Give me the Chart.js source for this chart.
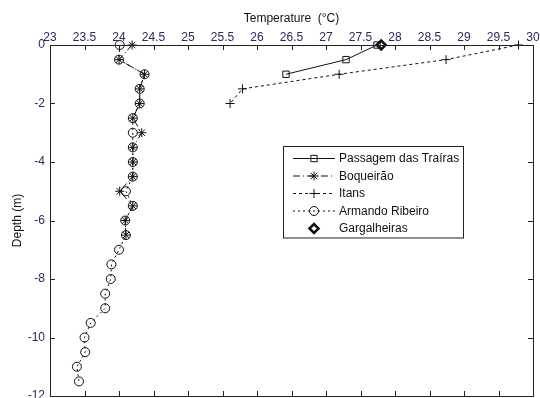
<!DOCTYPE html>
<html>
<head>
<meta charset="utf-8">
<script src="https://cdn.jsdelivr.net/npm/chart.js@4"></script>
<style>
  html, body { margin: 0; padding: 0; background: #fff; overflow: hidden; }
  #wrap { width: 540px; height: 398px; overflow: hidden; }
</style>
</head>
<body>
<div id="wrap"><canvas id="profileChart" width="540" height="403"></canvas></div>
<script>
// depths (m) and temperatures (°C)
const armandoDepth = [0, -0.5, -1, -1.5, -2, -2.5, -3, -3.5, -4, -4.5, -5, -5.5, -6, -6.5, -7, -7.5, -8, -8.5, -9, -9.5, -10, -10.5, -11, -11.5];
const armandoTemp = [24.01, 24.0, 24.37, 24.30, 24.30, 24.20, 24.20, 24.20, 24.20, 24.20, 24.10, 24.20, 24.09, 24.10, 24.0, 23.89, 23.88, 23.80, 23.80, 23.59, 23.50, 23.51, 23.39, 23.42];
const boqueiraoDepth = [0, -0.5, -1, -1.5, -2, -2.5, -3, -3.5, -4, -4.5, -5, -5.5, -6, -6.5];
const boqueiraoTemp = [24.19, 24.0, 24.37, 24.30, 24.30, 24.20, 24.33, 24.20, 24.20, 24.20, 24.01, 24.20, 24.09, 24.10];
const passagemDepth = [0, -0.5, -1];
const passagemTemp = [27.74, 27.29, 26.42];
const itansDepth = [0, -0.5, -1, -1.5, -2];
const itansTemp = [29.79, 28.74, 27.19, 25.79, 25.61];
const gargalheirasDepth = [0];
const gargalheirasTemp = [27.80];

const tempTicks = [23, 23.5, 24, 24.5, 25, 25.5, 26, 26.5, 27, 27.5, 28, 28.5, 29, 29.5, 30];
const depthTicks = [0, -2, -4, -6, -8, -10, -12];

const FONT = "Arial, 'Liberation Sans', sans-serif";
const tickColor = "#2a2a5c";

function pts(temps, depths) {
    return temps.map((t, i) => ({ x: t, y: depths[i] }));
}

function series(label, temps, depths, style, dash, radius, width, showLine) {
    return {
        label: label,
        data: pts(temps, depths),
        showLine: showLine,
        borderColor: "#111",
        borderWidth: 1,
        borderDash: dash,
        pointStyle: style,
        pointRadius: radius,
        pointBorderColor: "#111",
        pointBackgroundColor: "rgba(0,0,0,0)",
        pointBorderWidth: width,
        clip: false
    };
}

// inward ticks + box, like the original plot
const frameTicks = {
    id: "frameTicks",
    afterDraw(chart) {
        const ctx = chart.ctx;
        const a = chart.chartArea;
        const xs = chart.scales.x, ys = chart.scales.y;
        ctx.save();
        ctx.strokeStyle = "#222";
        ctx.lineWidth = 1;
        ctx.strokeRect(a.left + 0.5, a.top + 0.5, a.right - a.left, a.bottom - a.top);
        ctx.beginPath();
        tempTicks.forEach(v => {
            const px = Math.round(xs.getPixelForValue(v)) + 0.5;
            ctx.moveTo(px, a.top); ctx.lineTo(px, a.top + 5);
            ctx.moveTo(px, a.bottom); ctx.lineTo(px, a.bottom - 5);
        });
        depthTicks.forEach(v => {
            const py = Math.round(ys.getPixelForValue(v)) + 0.5;
            ctx.moveTo(a.left, py); ctx.lineTo(a.left + 5, py);
            ctx.moveTo(a.right, py); ctx.lineTo(a.right - 5, py);
        });
        ctx.stroke();
        ctx.restore();
    }
};

// legend drawn as a boxed MATLAB-style key
const boxLegend = {
    id: "boxLegend",
    afterDraw(chart) {
        const ctx = chart.ctx;
        const left = 283, top = 146, w = 180, rowH = 17.5;
        const sets = chart.data.datasets;
        ctx.save();
        ctx.fillStyle = "#fff";
        ctx.fillRect(left, top, w, rowH * sets.length + 4);
        ctx.strokeStyle = "#222";
        ctx.lineWidth = 1;
        ctx.strokeRect(left + 0.5, top + 0.5, w, rowH * sets.length + 4);
        sets.forEach((ds, i) => {
            const y = top + 12 + i * rowH;
            ctx.strokeStyle = "#111";
            ctx.lineWidth = 1;
            if (ds.showLine) {
                ctx.setLineDash(ds.borderDash || []);
                ctx.beginPath();
                ctx.moveTo(293, y + 0.5);
                ctx.lineTo(335, y + 0.5);
                ctx.stroke();
            }
            ctx.setLineDash([]);
            ctx.fillStyle = "rgba(0,0,0,0)";
            ctx.lineWidth = ds.pointBorderWidth;
            Chart.helpers.drawPoint(ctx, {
                pointStyle: ds.pointStyle,
                radius: ds.pointRadius,
                borderWidth: ds.pointBorderWidth,
                rotation: 0
            }, 314, y + 0.5);
            ctx.fillStyle = "#111";
            ctx.font = "12px " + FONT;
            ctx.textBaseline = "middle";
            ctx.textAlign = "left";
            ctx.fillText(ds.label, 339, y + 1);
        });
        ctx.restore();
    }
};

document.addEventListener("DOMContentLoaded", function () {
    const ctx = document.getElementById("profileChart").getContext("2d");
    new Chart(ctx, {
        type: "scatter",
        data: {
            datasets: [
                series("Passagem das Traíras", passagemTemp, passagemDepth, "rect", [], 4.5, 1, true),
                series("Boqueirão", boqueiraoTemp, boqueiraoDepth, "star", [7, 3, 1, 3], 4.5, 1, true),
                series("Itans", itansTemp, itansDepth, "cross", [3, 3], 4.5, 1, true),
                series("Armando Ribeiro", armandoTemp, armandoDepth, "circle", [2, 3], 4.5, 1, true),
                series("Gargalheiras", gargalheirasTemp, gargalheirasDepth, "rectRot", [], 4.5, 2.5, false)
            ]
        },
        options: {
            responsive: false,
            animation: false,
            layout: { padding: { top: 0, right: 7, bottom: 3, left: 0 } },
            plugins: {
                legend: { display: false },
                tooltip: { enabled: false }
            },
            scales: {
                x: {
                    type: "linear",
                    position: "top",
                    min: 23,
                    max: 30,
                    afterBuildTicks: s => { s.ticks = tempTicks.map(v => ({ value: v })); },
                    afterFit: s => { s.height = 45; s.paddingLeft = 0; s.paddingRight = 0; },
                    grid: { display: false, drawTicks: false },
                    border: { display: false },
                    ticks: {
                        color: tickColor,
                        font: { family: FONT, size: 12 },
                        padding: 0,
                        maxRotation: 0,
                        autoSkip: false,
                        callback: v => String(v)
                    },
                    title: {
                        display: true,
                        text: "Temperature  (°C)",
                        color: "#111",
                        font: { family: FONT, size: 12 },
                        padding: { top: 11, bottom: 0 }
                    }
                },
                y: {
                    type: "linear",
                    min: -12,
                    max: 0,
                    afterBuildTicks: s => { s.ticks = depthTicks.map(v => ({ value: v })); },
                    afterFit: s => { s.width = 50; s.paddingTop = 0; s.paddingBottom = 0; },
                    grid: { display: false, drawTicks: false },
                    border: { display: false },
                    ticks: {
                        color: tickColor,
                        font: { family: FONT, size: 12 },
                        padding: 5,
                        callback: v => String(v)
                    },
                    title: {
                        display: true,
                        text: "Depth (m)",
                        color: "#111",
                        font: { family: FONT, size: 12 },
                        padding: { top: 10, bottom: 4 }
                    }
                }
            }
        },
        plugins: [frameTicks, boxLegend]
    });
});
</script>
</body>
</html>
